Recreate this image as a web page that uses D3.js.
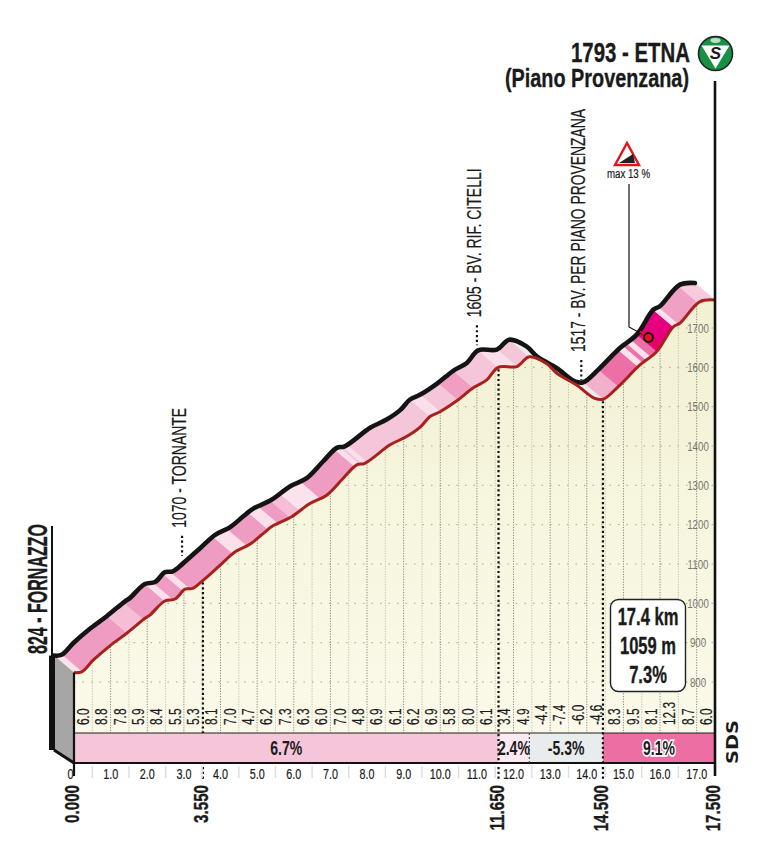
<!DOCTYPE html>
<html><head><meta charset="utf-8">
<script src="https://cdn.jsdelivr.net/npm/d3@7"></script>
<style>
html,body{margin:0;padding:0;background:#fff}
svg{display:block}
text{font-family:"Liberation Sans",sans-serif;fill:#1a1a1a}
.b{font-weight:700;stroke:#1a1a1a;stroke-width:.35px}
.m{stroke:#1a1a1a;stroke-width:.2px}
</style></head><body><svg id="c" width="784" height="852"></svg>
<script>
// ---- data ----
const profileKm = [0,0.21,0.53,0.98,1.44,1.94,2.07,2.48,2.76,3.03,3.24,3.53,3.99,4.40,4.80,5.17,5.43,5.94,6.44,6.90,7.35,7.72,7.94,8.63,9.08,9.45,9.72,9.99,10.45,10.90,11.27,11.58,12.09,12.43,12.90,13.18,13.72,14.22,14.45,14.86,15.45,15.91,16.36,16.54,17.09,17.5];
const profileElev = [824,826,856,892,924,962,970,1006,1011,1036,1038,1059,1097,1131,1150,1178,1197,1220,1254,1275,1318,1352,1356,1403,1424,1448,1475,1487,1515,1548,1568,1600,1602,1627,1610,1585,1555,1521,1519,1551,1606,1640,1703,1712,1767,1771];
const stripeEnd = [0.22,1.45,1.9,2.48,2.7,2.98,3.17,4.34,4.72,5.3,5.57,5.9,6.17,6.72,7.67,7.8,7.88,8.0,9.72,10.0,10.48,10.9,11.58,12.1,12.43,14.45,14.86,15.4,15.53,15.62,15.74,15.91,16.36,16.5,17.05,17.5];
const stripeColor = ["#fbe3ee","#ee9cc1","#f5bdd6","#ee9cc1","#fbdfeb","#ee9cc1","#fbdfeb","#ee9cc1","#fbdfeb","#ee9cc1","#fbdfeb","#ee9cc1","#f5bdd6","#fbe3ee","#ee9cc1","#fbdfeb","#f5c6da","#fbdfeb","#f5c6da","#fbdfeb","#f5c6da","#f09fc3","#f5c6da","#fadfea","#f5c6da","#e9eded","#f2b0cd","#ec6fa6","#fbe3ee","#ec6fa6","#fbe3ee","#ec6fa6","#e6007e","#fbe3ee","#efa0c4","#f7cbdd"];
const halfKmGrades = ["6.0","8.8","7.8","5.9","8.4","5.5","5.3","8.1","7.0","4.7","6.2","7.3","6.3","6.0","7.0","4.8","6.9","6.1","6.2","6.9","5.8","8.0","6.1","3.4","4.9","-4.4","-7.4","-6.0","-4.6","8.3","9.5","8.1","12.3","8.7","6.0"];
const sectorEnd = [11.59,12.43,14.44,17.5];
const sectorLabel = ["6.7%","2.4%","-5.3%","9.1%"];
const sectorColor = ["#f5c6da","#fce9f1","#e9ecec","#ec6ea3"];
const elevTicks = [800,900,1000,1100,1200,1300,1400,1500,1600,1700];
const kmTicks = [1,2,3,4,5,6,7,8,9,10,11,12,13,14,15,16,17];
const splitKm = [3.52,11.59,14.44];
const splitLabel = ["0.000","3.550","11.650","14.500","17.500"];
const splitLabelKm = [0,3.52,11.59,14.44,17.5];
const summary = ["17.4 km","1059 m","7.3%"];
const passKm = [2.95,11.0,13.85];
const passElev = [1070,1605,1517];
const passName = ["1070 - TORNANTE","1605 - BV. RIF. CITELLI","1517 - BV. PER PIANO PROVENZANA"];
const passLen = [120,149,243];

// ---- scales ----
const x = d3.scaleLinear().domain([0,17.5]).range([74,715]);
const y = d3.scaleLinear().domain([800,1700]).range([682,328]);
const elevAt = d3.scaleLinear().domain(profileKm).range(profileElev);
const dx=-20, dy=-17, bandTop=733, bandBot=763;
const svg=d3.select("#c");
const defs=svg.append("defs");
const grad=defs.append("linearGradient").attr("id","cream").attr("x1",0).attr("x2",0).attr("y1",0).attr("y2",1);
grad.append("stop").attr("offset",0).attr("stop-color","#f2f1d3");
grad.append("stop").attr("offset",1).attr("stop-color","#fbfaea");
const pts=profileKm.map((k,i)=>[x(k),y(profileElev[i])]);
const line=d3.line();
const areaPath=d3.area().x(d=>d[0]).y0(bandTop).y1(d=>d[1]);
defs.append("clipPath").attr("id","under").append("path").attr("d",areaPath(pts));
const place=(tx,ty,rot,f)=>`translate(${tx},${ty})${rot?" rotate(-90)":""} scale(${f},1)`;

// cream area
svg.append("path").attr("d",areaPath(pts)).attr("fill","url(#cream)");
const gridG=svg.append("g").attr("clip-path","url(#under)");
gridG.selectAll(".h").data(elevTicks).join("line").attr("x1",x(0)).attr("x2",x(17.5))
  .attr("y1",d=>y(d)).attr("y2",d=>y(d)).attr("stroke","#a9a999").attr("stroke-width",1).attr("stroke-dasharray","1.5 7");
const halves=d3.range(1,35).map(i=>i/2);
gridG.selectAll(".v").data(halves).join("line").attr("x1",d=>x(d)).attr("x2",d=>x(d))
  .attr("y1",280).attr("y2",bandTop).attr("stroke",d=>Number.isInteger(d)?"#8a8a7c":"#c0c0ae").attr("stroke-width",1).attr("stroke-dasharray","1.2 1.4");

// elevation labels
svg.selectAll(".el").data(elevTicks).join("text").attr("transform",d=>place(x(17.5)-17,y(d)+4.8,false,.72))
  .attr("text-anchor","middle").attr("font-size",13.5).style("fill","#77776f").text(d=>d);

// oblique road surface
const stripes=stripeEnd.map((e,i)=>({a:i?stripeEnd[i-1]:0,b:e,c:stripeColor[i]}));
svg.selectAll(".s").data(stripes).join("path").attr("fill",d=>d.c).attr("stroke",d=>d.c).attr("stroke-width",.4)
 .attr("d",d=>{
   const ks=[d.a,...profileKm.filter(k=>k>d.a&&k<d.b),d.b];
   const low=ks.map(k=>[x(k),y(elevAt(k))]);
   const up=low.map(p=>[p[0]+dx,p[1]+dy]).reverse();
   return line(low.concat(up))+"Z";
 });

// left wall
const x0=x(0), y0=y(profileElev[0]);
svg.append("path").attr("d",line([[x0+dx,y0+dy],[x0,y0],[x0,bandBot],[x0+dx,bandBot-13]])+"Z").attr("fill","#a6a6a6");
svg.append("path").attr("d",line([[x0+dx-2,y0+dy],[x0+dx-2,bandBot-13]])).attr("stroke","#111").attr("stroke-width",6).attr("fill","none");
svg.append("path").attr("d",line([[x0+dx,bandBot-13],[x0,bandBot]])).attr("stroke","#111").attr("stroke-width",3).attr("fill","none");

// profile lines
const curve=d3.line().curve(d3.curveCatmullRom.alpha(.5));
svg.append("path").attr("d",curve(pts.map(p=>[p[0]+dx,p[1]+dy])))
  .attr("fill","none").attr("stroke","#141414").attr("stroke-width",4.6).attr("stroke-linecap","round");
svg.append("path").attr("d",curve(pts))
  .attr("fill","none").attr("stroke","#a8211c").attr("stroke-width",3);

// grade band
const sectors=sectorEnd.map((e,i)=>({a:i?sectorEnd[i-1]:0,b:e,c:sectorColor[i],t:sectorLabel[i]}));
svg.selectAll(".sec").data(sectors).join("rect").attr("x",d=>x(d.a)).attr("width",d=>x(d.b)-x(d.a))
  .attr("y",bandTop).attr("height",bandBot-bandTop).attr("fill",d=>d.c);
svg.append("line").attr("x1",x0).attr("x2",x(17.5)).attr("y1",bandTop).attr("y2",bandTop).attr("stroke","#222").attr("stroke-width",1.2);
svg.append("line").attr("x1",x0).attr("x2",x(17.5)).attr("y1",bandBot).attr("y2",bandBot).attr("stroke","#111").attr("stroke-width",2);
svg.selectAll(".secl").data(sectors).join("text")
  .attr("transform",d=>place(x((d.a+d.b)/2),bandBot-8,false,.72)).attr("text-anchor","middle").attr("font-size",19.5).attr("font-weight",700)
  .attr("paint-order","stroke").attr("stroke","#fff").attr("stroke-width",d=>d.t==="9.1%"?3.5:0).text(d=>d.t);
svg.append("line").attr("x1",x(12.43)).attr("x2",x(12.43)).attr("y1",bandTop).attr("y2",bandBot).attr("stroke","#333").attr("stroke-dasharray","2 2");

// split dotted lines
const dotted=(k,a,b)=>svg.append("line").attr("x1",x(k)).attr("x2",x(k)).attr("y1",a).attr("y2",b)
  .attr("stroke","#111").attr("stroke-width",2.2).attr("stroke-dasharray","2.2 2.6");
splitKm.forEach((k,i)=>dotted(k,y(elevAt(k))+2,i===0?bandTop:bandBot));
splitKm.forEach(k=>dotted(k,767,779));

// half-km grades
svg.selectAll(".g").data(halfKmGrades).join("text").attr("class","m")
  .attr("transform",(d,i)=>place(x(i/2+.25)+6,725,true,.72)).attr("font-size",16.5).text(d=>d);

// km axis
svg.selectAll(".t0").data(d3.range(0,17).map(i=>i+.5)).join("line")
  .attr("x1",d=>x(d)).attr("x2",d=>x(d)).attr("y1",766).attr("y2",778).attr("stroke","#ddd").attr("stroke-width",1.4);
svg.selectAll(".t").data(kmTicks).join("text").attr("class","m").attr("transform",d=>place(x(d),779,false,.72)).attr("text-anchor","middle").attr("font-size",15).text(d=>d.toFixed(1));
svg.append("text").attr("class","m").attr("transform",place(x(0)-3.5,779,false,.72)).attr("text-anchor","middle").attr("font-size",15).text("0");

// split labels
svg.selectAll(".sl").data(splitLabel).join("text").attr("class","b").attr("text-anchor","end")
 .attr("transform",(d,i)=>place(x(splitLabelKm[i])+5,785,true,.74)).attr("font-size",20.5).text(d=>d);

// walls
svg.append("line").attr("x1",x0).attr("x2",x0).attr("y1",y0).attr("y2",776).attr("stroke","#111").attr("stroke-width",2.2);
svg.append("line").attr("x1",x(17.5)).attr("x2",x(17.5)).attr("y1",81).attr("y2",776).attr("stroke","#111").attr("stroke-width",2.6);

// start label
svg.append("line").attr("x1",52).attr("x2",52).attr("y1",526).attr("y2",656).attr("stroke","#111").attr("stroke-width",2);
svg.append("text").attr("class","b").attr("transform","translate(46.5,654) rotate(-90)").attr("font-size",28)
  .attr("textLength",130).attr("lengthAdjust","spacingAndGlyphs").text("824 - FORNAZZO");

// passes
passName.forEach((t,i)=>{
  const px=x(passKm[i]), py=y(passElev[i])+dy;
  svg.append("line").attr("x1",px).attr("x2",px).attr("y1",py-23).attr("y2",py-3).attr("stroke","#111").attr("stroke-width",2.2).attr("stroke-dasharray","2.2 2.6");
  svg.append("text").attr("class","m").attr("transform",`translate(${px+4},${py-31}) rotate(-90)`).attr("font-size",20)
    .attr("textLength",passLen[i]).attr("lengthAdjust","spacingAndGlyphs").text(t);
});

// finish
svg.append("text").attr("class","b").attr("x",571).attr("y",62).attr("font-size",27).attr("textLength",119).attr("lengthAdjust","spacingAndGlyphs").text("1793 - ETNA");
svg.append("text").attr("class","b").attr("x",505).attr("y",87).attr("font-size",26).attr("textLength",184).attr("lengthAdjust","spacingAndGlyphs").text("(Piano Provenzana)");
const ic=svg.append("g").attr("transform","translate(715.5,53.5)");
ic.append("circle").attr("r",17).attr("fill","#179146").attr("stroke","#222").attr("stroke-width",1.6);
ic.append("ellipse").attr("cy",-13).attr("rx",5).attr("ry",2.4).attr("fill","#bfe0c8");
ic.append("path").attr("d","M-14,-8L14,-8L0,15Z").attr("fill","#fff");
ic.append("text").attr("y",5).attr("text-anchor","middle").attr("font-size",17).attr("font-weight",700).attr("font-style","italic").text("S");

// max grade sign
svg.append("path").attr("d","M627,143L615,165L639,165Z").attr("fill","#fff").attr("stroke","#e2131d").attr("stroke-width",2.4);
svg.append("path").attr("d","M619,163L635,163L633,154Z").attr("fill","#222");
svg.append("text").attr("class","m").attr("transform",place(628.5,178,false,.72)).attr("text-anchor","middle").attr("font-size",13.5).text("max 13 %");
svg.append("path").attr("d","M629,184L629,327L648.5,337.5").attr("fill","none").attr("stroke","#111").attr("stroke-width",1.2);
svg.append("line").attr("x1",640).attr("y1",331.5).attr("x2",659).attr("y2",346).attr("stroke","#e2131d").attr("stroke-width",2);
svg.append("circle").attr("cx",648.5).attr("cy",337.5).attr("r",4.5).attr("fill","#e2131d").attr("stroke","#111").attr("stroke-width",1.8);

// summary box
svg.append("rect").attr("x",610.5).attr("y",599.5).attr("width",75).attr("height",92).attr("rx",8).attr("fill","#fff").attr("stroke","#222").attr("stroke-width",1.4);
svg.selectAll(".sm").data(summary).join("text").attr("class","b").attr("transform",(d,i)=>place(648,625+i*29,false,.72))
  .attr("text-anchor","middle").attr("font-size",23).text(d=>d);

// SDS mark
svg.append("text").attr("transform","translate(738,764) rotate(-90)").style("font-family","'DejaVu Sans'").attr("font-weight",700).attr("font-size",15)
  .attr("textLength",44).attr("lengthAdjust","spacingAndGlyphs").text("SDS");
</script></body></html>
